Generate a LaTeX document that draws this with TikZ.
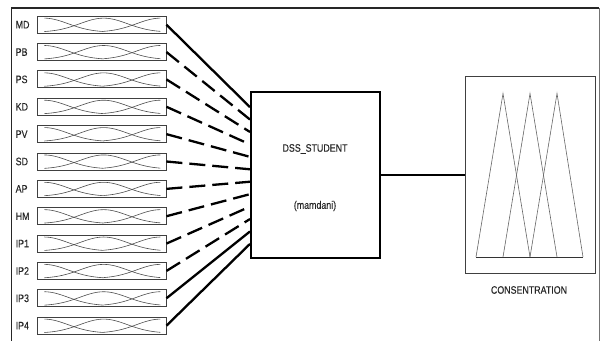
\documentclass[tikz,border=0pt]{standalone}
\usepackage{fontspec}
\setmainfont{Liberation Sans}
\newfontfamily\lblfont[FakeBold=0.25]{Liberation Sans}
\usetikzlibrary{calc}
\newcommand\nrw[1]{\scalebox{0.82}[1]{#1}}
\tikzset{
  inbox/.style={draw=black!75, line width=0.9pt, minimum width=129pt, minimum height=17pt, inner sep=0pt},
  lbl/.style={anchor=west, inner sep=0pt, text=black!85, font=\lblfont\fontsize{10.8}{12}\selectfont},
  mf/.style={draw=black!70, line width=0.6pt},
  fan/.style={line width=2.3pt, black},
  fandash/.style={fan, dash pattern=on 16pt off 7pt},
  cbox/.style={draw=black, line width=2pt, minimum width=129pt, minimum height=166pt, inner sep=0pt},
  obox/.style={draw=black!75, line width=0.9pt, minimum width=130pt, minimum height=197pt, inner sep=0pt},
  tri/.style={draw=black!60, line width=0.6pt},
  ctext/.style={inner sep=0pt, text=black!85, font=\lblfont\fontsize{10.8}{12}\selectfont}
}
\begin{document}
\begin{tikzpicture}[x=1pt,y=-1pt]
\useasboundingbox (0,0) rectangle (601,340);
% outer frame
\draw[line width=1.3pt, black!85] (11.5,341) -- (11.5,8) -- (598.5,8);
\draw[line width=0.8pt, black!55] (599.5,8) -- (599.5,341);
% central and output boxes
\node[cbox] (c) at (315.5,175) {};
\node[ctext] (ctitle) at (315,149) {\nrw{DSS\_STUDENT}};
\node[ctext] (csub) at (315,206) {\nrw{(mamdani)}};
\node[obox] (o) at (530,174.5) {};
\node[ctext] (olbl) at (529,290) {\nrw{CONSENTRATION}};
\draw[fan] (c.east) -- (c.east -| o.west);
% triangles
\coordinate (b1) at (476,257); \coordinate (b2) at (503,257); \coordinate (b3) at (530,257);
\coordinate (b4) at (557,257); \coordinate (b5) at (583,257);
\coordinate (p1) at (503,93.5); \coordinate (p2) at (530,93.5); \coordinate (p3) at (557,93.5);
\draw[tri] (b1) -- (p1) -- (b3);
\draw[tri] (b2) -- (p2) -- (b4);
\draw[tri] (b3) -- (p3) -- (b5);
\draw[line width=0.9pt, black!80] (b1) -- (b5);
% inputs
\foreach \name [count=\i from 0] in {MD,PB,PS,KD,PV,SD,AP,HM,IP1,IP2,IP3,IP4}{
  \pgfmathsetmacro{\yy}{24.7+27.36*\i}
  \node[inbox] (in\i) at (101.5,\yy) {};
  \node[lbl] (l\i) at (15.5,\yy) {\nrw{\name}};
  \begin{scope}[shift={(in\i.south west)}]
    \draw[mf] plot[domain=0.06:0.52, samples=30, variable=\t] ({129*\t},{-1.5-14*exp(0-(((\t-0.06)/0.26)^2))});
    \draw[mf] plot[domain=0.06:0.96, samples=50, variable=\t] ({129*\t},{-1.5-14*exp(0-(((\t-0.52)/0.26)^2))});
    \draw[mf] plot[domain=0.52:0.96, samples=30, variable=\t] ({129*\t},{-1.5-14*exp(0-(((\t-0.96)/0.26)^2))});
  \end{scope}
  \pgfmathsetmacro{\fr}{0.096+0.074*\i}
  \ifnum\i=0
    \draw[fan] (in\i.east) -- ($(c.north west)!\fr!(c.south west)$);
  \else\ifnum\i>9
    \draw[fan] (in\i.east) -- ($(c.north west)!\fr!(c.south west)$);
  \else
    \draw[fandash] (in\i.east) -- ($(c.north west)!\fr!(c.south west)$);
  \fi\fi
}
\end{tikzpicture}
\end{document}
